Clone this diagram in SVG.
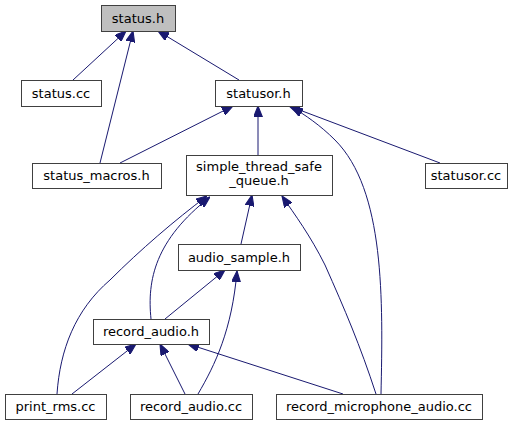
<svg xmlns="http://www.w3.org/2000/svg" width="525" height="425" viewBox="0 0 525 425">
<defs>
<style>
.n rect{fill:#ffffff;stroke:#404040;stroke-width:1}
.n text{font-family:"DejaVu Sans",sans-serif;font-size:13px;fill:#000;text-anchor:middle}
#edges path{fill:none;stroke:#191970;stroke-width:1;marker-end:url(#ah)}
</style>
<marker id="ah" viewBox="0 0 10 8" refX="10" refY="4" markerWidth="11" markerHeight="9" markerUnits="userSpaceOnUse" orient="auto">
<path d="M0,0 L10,4 L0,8 z" fill="#191970" stroke="#191970" stroke-width="1"/>
</marker>
</defs>
<rect width="525" height="425" fill="#ffffff"/>
<g id="edges">
<path d="M73,80 L126,31"/>
<path d="M100,163 L133,31"/>
<path d="M239,80 L158,31"/>
<path d="M120,163 L233,106"/>
<path d="M258,155 L258,106"/>
<path d="M440,163 L289,106"/>
<path d="M381,394 C383,300 385,190 335,140 C320,125 305,115 292,107"/>
<path d="M241,244 L252,195"/>
<path d="M151,319 C147,280 155,240 210,197"/>
<path d="M57,394 C60,350 75,310 110,280 C140,250 175,220 207,196"/>
<path d="M376,394 C360,345 345,310 325,265 C310,235 295,215 282,196"/>
<path d="M165,319 L225,270"/>
<path d="M198,394 C215,365 232,330 237,271"/>
<path d="M72,394 L136,344"/>
<path d="M185,394 L160,344"/>
<path d="M343,394 L188,344"/>
</g>
<g id="status_h" class="n"><rect x="101.5" y="5.5" width="74" height="26" style="fill:#bfbfbf"/><text x="138" y="22.5">status.h</text></g>
<g id="status_cc" class="n"><rect x="21.5" y="80.5" width="80" height="26"/><text x="61" y="97.5">status.cc</text></g>
<g id="statusor_h" class="n"><rect x="215.5" y="80.5" width="87" height="26"/><text x="258.5" y="97.5">statusor.h</text></g>
<g id="status_macros_h" class="n"><rect x="32.5" y="163.5" width="129" height="25"/><text x="96.5" y="180">status_macros.h</text></g>
<g id="simple_thread_safe_queue_h" class="n"><rect x="186.5" y="155.5" width="146" height="40"/><text x="259" y="170.5">simple_thread_safe</text><text x="259" y="184.5">_queue.h</text></g>
<g id="statusor_cc" class="n"><rect x="425.5" y="163.5" width="82" height="25"/><text x="466" y="180">statusor.cc</text></g>
<g id="audio_sample_h" class="n"><rect x="178.5" y="244.5" width="122" height="26"/><text x="239" y="261.5">audio_sample.h</text></g>
<g id="record_audio_h" class="n"><rect x="93.5" y="319.5" width="116" height="25"/><text x="151" y="336">record_audio.h</text></g>
<g id="print_rms_cc" class="n"><rect x="5.5" y="394.5" width="101" height="25"/><text x="55.5" y="411">print_rms.cc</text></g>
<g id="record_audio_cc" class="n"><rect x="130.5" y="394.5" width="122" height="25"/><text x="191" y="411">record_audio.cc</text></g>
<g id="record_microphone_audio_cc" class="n"><rect x="276.5" y="394.5" width="206" height="25"/><text x="379" y="411">record_microphone_audio.cc</text></g>
</svg>
